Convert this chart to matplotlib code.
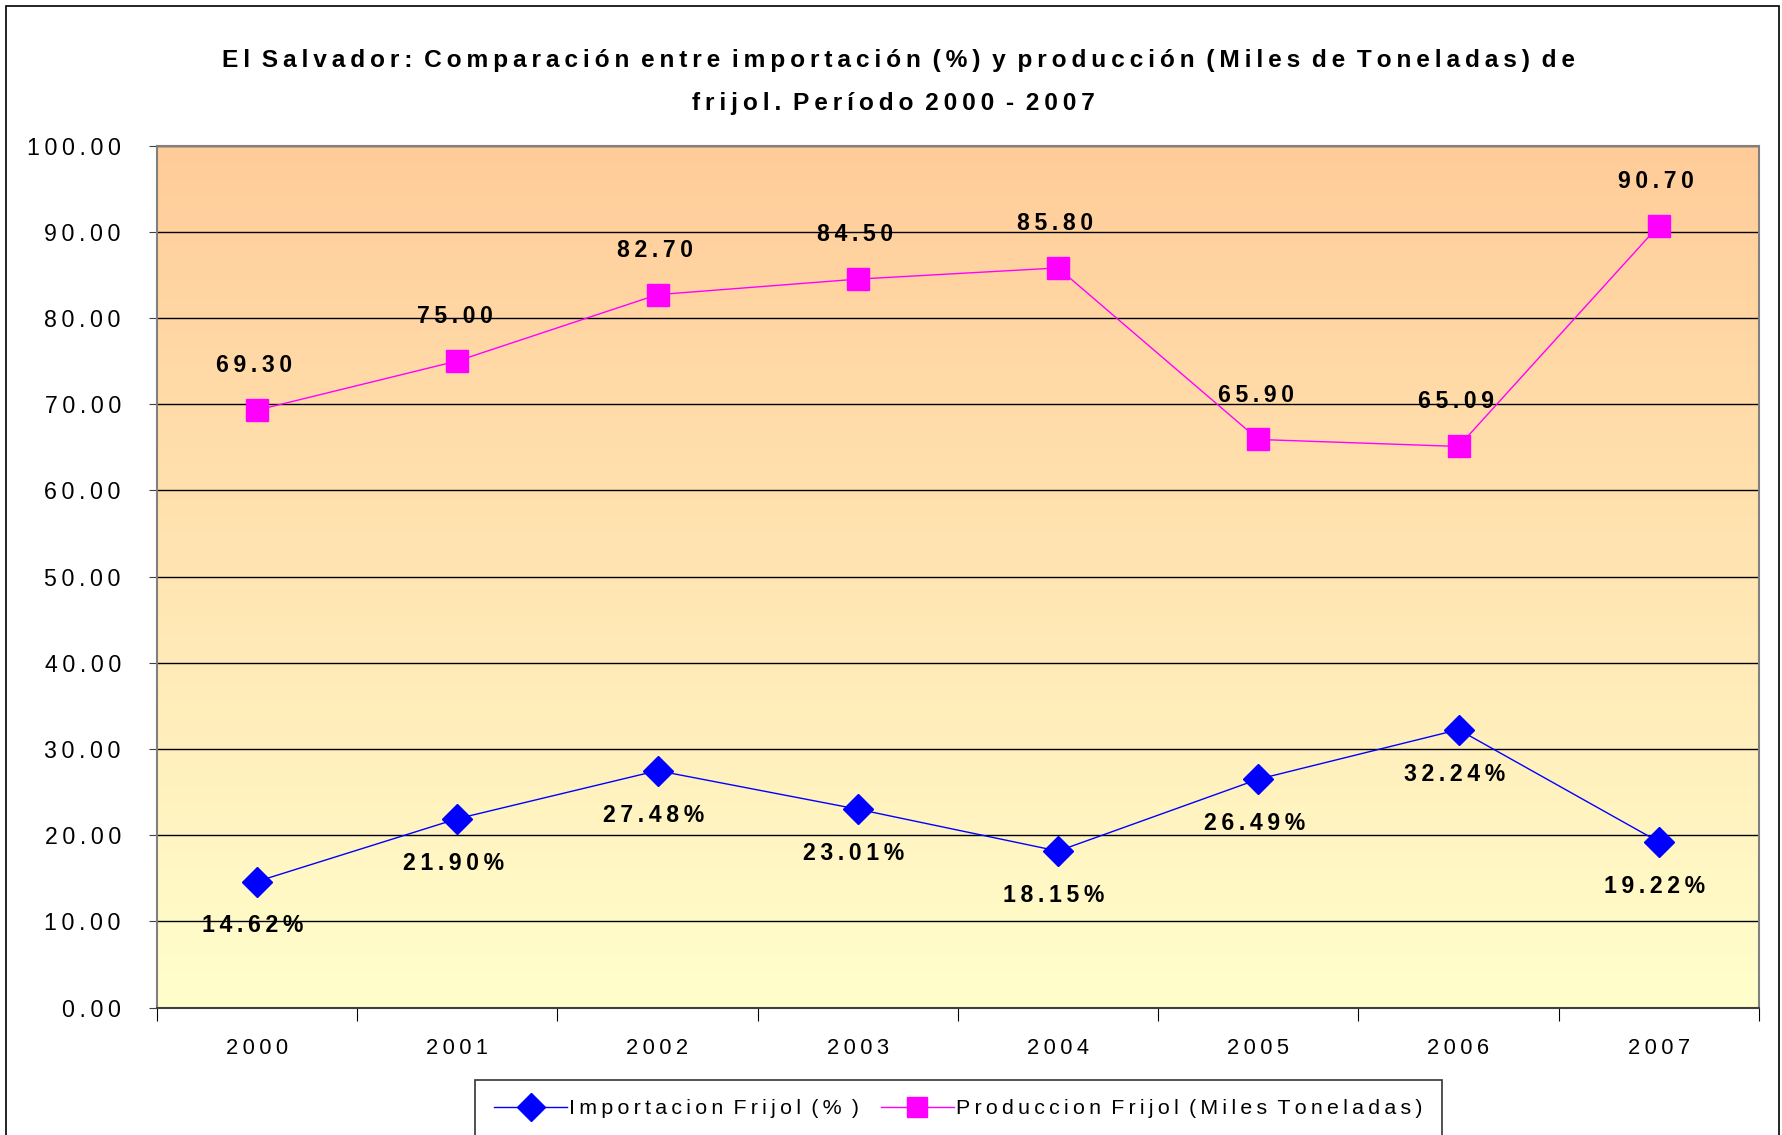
import matplotlib
matplotlib.use("Agg")
import matplotlib.pyplot as plt
from matplotlib.patches import Rectangle
from matplotlib.lines import Line2D
from matplotlib.font_manager import FontProperties
from matplotlib.textpath import TextPath
import numpy as np

years = ["2000", "2001", "2002", "2003", "2004", "2005", "2006", "2007"]
importacion = [14.62, 21.90, 27.48, 23.01, 18.15, 26.49, 32.24, 19.22]
produccion = [69.30, 75.00, 82.70, 84.50, 85.80, 65.90, 65.09, 90.70]
y_ticks = [0, 10, 20, 30, 40, 50, 60, 70, 80, 90, 100]

title_l1 = "El Salvador: Comparación entre importación (%) y producción (Miles de Toneladas) de"
title_l2 = "frijol. Período 2000 - 2007"
leg_imp = "Importacion Frijol (% )"
leg_prod = "Produccion Frijol (Miles Toneladas)"

DPI = 100
FONT = ["Liberation Sans", "DejaVu Sans"]
plt.rcParams["font.family"] = FONT
THIN = "\u2009"


def spaced(s):
    """Excel-style stretched text: letters separated by a thin space."""
    return (" " + THIN).join(THIN.join(w) for w in s.split(" "))


def fit_size(s, width_px, weight="normal"):
    """Font size (pt) at which text s is about width_px pixels wide."""
    fp = FontProperties(family=FONT, weight=weight)
    w = TextPath((0, 0), s, size=1, prop=fp).get_extents().width
    return width_px * 72 / (DPI * w)


fig = plt.figure(figsize=(17.83, 11.35), dpi=DPI)
ax = fig.add_axes([0.088, 0.1123, 0.8985, 0.7595])

# gradient plot-area background (peach at top -> pale yellow at bottom)
top = np.array([255, 204, 153]) / 255
bot = np.array([255, 255, 204]) / 255
t = np.linspace(0, 1, 256)[:, None]
grad = (top * (1 - t) + bot * t)[:, None, :]
ax.imshow(grad, extent=(-0.5, 7.5, 0, 100), aspect="auto", zorder=0)

x = np.arange(len(years))
ax.plot(x, produccion, color="#FF00FF", lw=1, marker="s", ms=16,
        mfc="#FF00FF", mec="#FF00FF", zorder=4)
ax.plot(x, importacion, color="#0000FF", lw=1, marker="D", ms=15,
        mfc="#0000FF", mec="#0000FF", zorder=4)

fs_lab = fit_size(spaced("69.30"), 74, "bold")
for xi, v in zip(x, produccion):
    ax.annotate(spaced(f"{v:.2f}"), (xi, v), xytext=(-2, 32), textcoords="offset points",
                ha="center", va="center", fontsize=fs_lab, fontweight="bold", zorder=5)
for xi, v in zip(x, importacion):
    ax.annotate(spaced(f"{v:.2f}%"), (xi, v), xytext=(-3, -32), textcoords="offset points",
                ha="center", va="center", fontsize=fs_lab, fontweight="bold", zorder=5)

ax.set_xlim(-0.5, 7.5)
ax.set_ylim(0, 100)
ax.set_yticks(y_ticks)
ax.set_yticklabels([spaced(f"{v:.2f}") for v in y_ticks],
                   fontsize=fit_size(spaced("100.00"), 91))
ax.yaxis.grid(True, color="black", lw=1)
for gl in ax.get_ygridlines():
    gl.set_zorder(1)

ax.set_xticks(np.arange(-0.5, 8, 1))
ax.set_xticklabels([])
ax.set_xticks(x, minor=True)
ax.set_xticklabels([spaced(y) for y in years], minor=True,
                   fontsize=fit_size(spaced("2000"), 60))
ax.tick_params(axis="x", which="major", length=9, direction="out", color="black")
ax.tick_params(axis="x", which="minor", length=0, pad=22)
ax.tick_params(axis="y", length=6, direction="out", pad=20, color="#404040")

for side in ["top", "right", "left"]:
    ax.spines[side].set_color("#808080")
    ax.spines[side].set_linewidth(1.5)
ax.spines["bottom"].set_color("#404040")
ax.spines["bottom"].set_linewidth(1.5)

fs_title = fit_size(spaced(title_l1), 1353, "bold")
fig.text(0.504, 0.947, spaced(title_l1), ha="center", va="center",
         fontsize=fs_title, fontweight="bold")
fig.text(0.501, 0.909, spaced(title_l2), ha="center", va="center",
         fontsize=fs_title, fontweight="bold")

# outer chart-area border
fig.patches.append(Rectangle((6 / 1783, -0.02), 1773 / 1783, 1 - 6 / 1135 + 0.02,
                             transform=fig.transFigure, fill=False,
                             edgecolor="black", lw=1.2))

handles = [Line2D([], [], color="#0000FF", lw=1, marker="D", ms=14, mfc="#0000FF"),
           Line2D([], [], color="#FF00FF", lw=1, marker="s", ms=15, mfc="#FF00FF")]
leg = fig.legend(handles, [spaced(leg_imp), spaced(leg_prod)], loc="upper left",
                 bbox_to_anchor=(0.2664, 0.0485), ncol=2,
                 fontsize=fit_size(spaced(leg_prod), 466),
                 frameon=True, fancybox=False, edgecolor="black", handlelength=3.4,
                 handletextpad=0.1, columnspacing=1.0, borderpad=0.9, borderaxespad=0)
leg.get_frame().set_linewidth(1.2)

fig.savefig("out.png", dpi=DPI)
